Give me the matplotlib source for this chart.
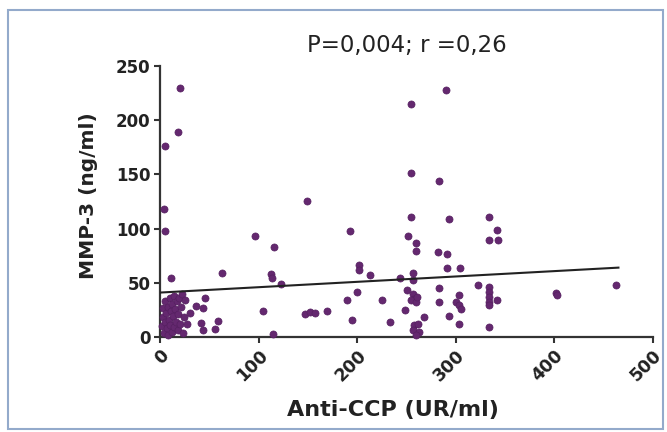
import numpy as np
import matplotlib
matplotlib.use('Agg')
import matplotlib.pyplot as plt
from matplotlib.patches import Rectangle

# Anti-CCP (UR/ml) vs MMP-3 (ng/ml)
anti_ccp = [
    20, 18, 5, 4, 5, 11, 62.6,
    2, 3, 3, 4, 5, 5, 6, 7, 8, 8, 9, 10, 10, 11, 12, 12, 13, 14, 14, 15, 16, 17, 18, 18, 19, 20, 21, 22, 23, 24, 25,
    27, 30, 36.7, 44, 45.8, 42, 44, 56, 59,
    96.3, 116, 112.4, 114, 123, 104.5, 115, 147, 152, 157, 169.5, 149.5, 192.5, 202, 202, 213.4, 199.7, 189.6,
    225, 195, 233, 243,
    254.5, 254.5, 254.5, 251.2, 259.6, 259.6, 256.3, 256.3, 251, 256.3, 258, 254.5, 259.6, 261, 248.5, 267.4,
    257.3, 261.3, 256.3, 262.9, 259.6,
    289.9, 283.2, 293.2, 282, 291, 291.6, 304.4, 283.2, 283.2, 293.2, 303.3, 300, 303.3, 305, 303.3,
    333.6, 342, 333.6, 342.7, 322.5, 333.6, 333.6, 333.6, 333.6, 342, 333.6, 333.6,
    402, 403, 463,
]
mmp3 = [
    229.7, 189, 176, 118, 97.5, 54, 59.4,
    10, 18, 27, 4, 14, 33, 22, 8, 28, 2, 16, 36, 11, 24, 5, 30, 19, 38, 9, 26, 14, 33, 6, 21, 36, 12, 28, 40, 4, 18, 34,
    12, 22.5, 29, 27, 36, 13, 6, 7, 14.5,
    93, 83, 58, 54, 48.6, 24, 3, 21.6, 23.5, 22.5, 24, 125.5, 98, 66, 61.5, 57, 41.5, 34,
    34, 15.4, 13.8, 54,
    214.7, 151.7, 110.7, 93, 86.7, 79, 59.4, 52.3, 43, 40, 35.4, 33.9, 32.3, 37, 25.3, 18.5,
    10.8, 12.3, 6.2, 4.6, 1.6,
    228.2, 143.9, 109.2, 78.4, 76.9, 63.7, 63.7, 45.2, 32.3, 19.1, 38.5, 32.3, 29.2, 26.2, 12.4,
    110.7, 98.4, 89.2, 89.9, 47.7, 46.1, 41.5, 36.9, 32.3, 34.5, 29.2, 9.2,
    41, 39, 47.7,
]

# regression line end points
fit_x = [0, 465]
fit_y = [41, 64]

x_ticks = [0, 100, 200, 300, 400, 500]
y_ticks = [0, 50, 100, 150, 200, 250]

fig = plt.figure(figsize=(6.67, 4.32), dpi=100)
fig.patch.set_facecolor('white')
fig.patches.append(Rectangle((8 / 667, 3 / 432), 655 / 667, 419 / 432, transform=fig.transFigure,
                             fill=False, edgecolor='#93aacb', linewidth=1.5))

ax = fig.add_axes([0.2399, 0.2199, 0.739, 0.6273])
ax.scatter(anti_ccp, mmp3, s=26, color='#64286f', edgecolors='#552060', linewidths=0.5,
           zorder=3, clip_on=False)
ax.plot(fit_x, fit_y, color='#222222', linewidth=1.5, zorder=4)

ax.set_xlim(0, 500)
ax.set_ylim(0, 250)
ax.set_xticks(x_ticks)
ax.set_yticks(y_ticks)
ax.set_xticklabels([str(t) for t in x_ticks], rotation=45, ha='right', rotation_mode='anchor',
                   fontsize=12.5, fontweight='bold', color='#222222')
ax.set_yticklabels([str(t) for t in y_ticks], fontsize=12, fontweight='bold', color='#222222')

for side in ['top', 'right']:
    ax.spines[side].set_visible(False)
for side in ['left', 'bottom']:
    ax.spines[side].set_linewidth(1.6)
    ax.spines[side].set_color('#333333')
ax.tick_params(direction='out', length=4, width=1.5, color='#333333', pad=3)

ax.set_title('P=0,004; r =0,26', fontsize=16.5, color='#222222', pad=10)
ax.set_ylabel('MMP-3 (ng/ml)', fontsize=14.5, fontweight='bold', color='#222222')
ax.yaxis.set_label_coords(-0.125, 0.52)
ax.set_xlabel('Anti-CCP (UR/ml)', fontsize=16, fontweight='bold', color='#222222')
ax.xaxis.set_label_coords(0.473, -0.232)

plt.savefig('out.png', dpi=100)
